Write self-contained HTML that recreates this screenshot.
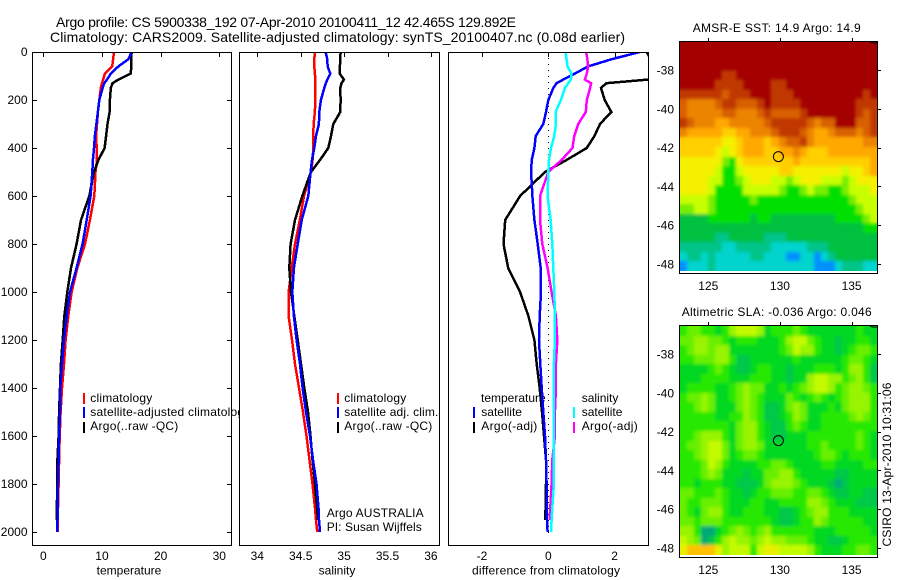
<!DOCTYPE html>
<html lang="en">
<head>
<meta charset="utf-8">
<title>Argo profile 5900338_192</title>
<style>
html,body{margin:0;padding:0;background:#fff;}
svg{display:block;font-family:"Liberation Sans",sans-serif;font-size:12px;fill:#000;}
</style>
</head>
<body>
<svg id="chart" xmlns="http://www.w3.org/2000/svg" width="900" height="580" viewBox="0 0 900 580">
<rect x="0" y="0" width="900" height="580" fill="#fff"/>
<defs>
<clipPath id="clip-p3"><rect x="449" y="53" width="199" height="492"/></clipPath>
<clipPath id="clip-p1"><rect x="33" y="53" width="198" height="492"/></clipPath>
<clipPath id="clip-p2"><rect x="240" y="53" width="199" height="492"/></clipPath>
<clipPath id="clip-sst-map"><rect x="680" y="42" width="197" height="229"/></clipPath>
<clipPath id="clip-sla-map"><rect x="680" y="326" width="197" height="229"/></clipPath>
<filter id="map-smooth" x="-5%" y="-5%" width="110%" height="110%"><feGaussianBlur stdDeviation="1.5"/></filter>
</defs>
<text x="56" y="27" font-size="14" textLength="460">Argo profile: CS 5900338_192 07-Apr-2010 20100411_12 42.465S 129.892E</text>
<text x="50" y="42" font-size="14" textLength="575">Climatology: CARS2009. Satellite-adjusted climatology: synTS_20100407.nc (0.08d earlier)</text>
<g id="panels"></g>
<g id="maps"></g>
<text x="692.7" y="32" textLength="168">AMSR-E SST: 14.9 Argo: 14.9</text>
<text x="681.7" y="316" textLength="190">Altimetric SLA: -0.036 Argo: 0.046</text>
<text transform="translate(891,546.5) rotate(-90)" textLength="164">CSIRO 13-Apr-2010 10:31:06</text>
</svg>
<script>
// ---- profile data (depth in dbar) ----
const depths = [0,30,60,90,115,130,150,200,250,300,350,400,450,500,600,700,800,900,1000,1100,1200,1300,1400,1500,1600,1700,1800,1900,1950,2000];
const tempClim = [12.05,11.9,11.75,10.5,10.2,10.0,9.8,9.55,9.3,9.15,9.0,9.1,9.15,8.9,8.7,7.95,7.1,5.8,4.83,4.26,3.8,3.52,3.18,2.95,2.8,2.7,2.6,2.5,2.47,2.45];
const tempSat = [15.05,14.5,12.8,11.5,10.85,10.4,10.1,9.55,9.3,9.05,8.8,8.65,8.45,8.35,8.07,7.39,6.7,5.68,4.55,3.98,3.52,3.18,2.9,2.85,2.7,2.6,2.5,2.45,2.42,2.4];
const tempArgo = [15.05,15,15,14.9,12.8,11.8,11.5,11.35,11.3,10.95,10.7,10.45,9.4,8.65,7.84,6.42,5.68,4.72,4.09,3.58,3.3,3.0,2.84,2.7,2.6,2.4,2.4,2.3,2.25,null];
const salClim = [34.664,34.657,34.657,34.664,34.668,34.668,34.668,34.668,34.664,34.649,34.645,34.645,34.637,34.618,34.538,34.49,34.434,34.396,34.361,34.361,34.4,34.434,34.48,34.527,34.567,34.601,34.636,34.665,34.676,34.691];
const salSat = [34.787,34.806,34.81,34.841,34.806,34.79,34.772,34.733,34.714,34.71,34.676,34.657,34.63,34.614,34.588,34.511,34.465,34.422,34.403,34.422,34.453,34.492,34.522,34.561,34.607,34.642,34.682,34.705,34.711,34.722];
const salArgo = [34.96,34.956,34.952,34.949,34.998,34.97,34.956,34.96,34.956,34.876,34.849,34.818,34.722,34.618,34.518,34.434,34.384,34.369,34.388,34.426,34.465,34.503,34.541,34.584,34.613,34.636,34.665,34.688,34.699,null];
const diffTempSat = [2.76,1.91,1.2,0.8,0.45,0.25,0.15,0,-0.07,-0.15,-0.38,-0.42,-0.5,-0.52,-0.48,-0.42,-0.32,-0.23,-0.22,-0.26,-0.28,-0.24,-0.2,-0.15,-0.1,-0.07,-0.05,-0.05,-0.04,-0.02];
const diffTempArgo = [2.96,3.1,3.3,4.0,3.0,1.75,1.59,1.7,1.9,1.56,1.39,1.16,0.55,-0.1,-0.85,-1.3,-1.35,-1.21,-0.85,-0.6,-0.42,-0.35,-0.26,-0.19,-0.13,-0.07,-0.07,-0.08,-0.1,null];
const diffSalSat = [0.52,0.55,0.58,0.7,0.68,0.6,0.5,0.38,0.22,0.23,0.18,0.08,0.02,0,-0.02,0.07,0.12,0.15,0.18,0.2,0.2,0.17,0.16,0.16,0.16,0.16,0.17,0.12,0.1,0.08];
const diffSalArgo = [1.14,1.18,1.2,1.16,1.1,1.29,1.26,1.16,1.13,0.9,0.78,0.73,0.4,0,-0.25,-0.25,-0.18,-0.02,0.1,0.23,0.27,0.23,0.23,0.2,0.2,0.12,0.1,0.06,0.04,null];
// ---- tick labels ----
const depthTicks = [0,200,400,600,800,1000,1200,1400,1600,1800,2000];
const tempTicks = [0,10,20,30];
const salTicks = [34,34.5,35,35.5,36];
const diffTicks = [-2,0,2];
const lonTicks = [125,130,135];
const latTicks = [-38,-40,-42,-44,-46,-48];
// ---- float position ----
const floatLon = 129.892;
const floatLat = -42.465;
// ---- AMSR-E SST colour-level grid (rows north to south) ----
const sstGrid = [
[0,0,0,0,0,0,0,0,0,0,0,0,0,0,0,0,0,0,0,0,0,0,0,0,0,0,0,0],
[0,0,0,0,0,0,0,0,0,0,0,0,0,0,0,0,0,0,0,0,0,0,0,0,0,0,0,0],
[0,0,0,0,0,0,0,0,0,0,0,0,0,0,0,0,0,0,0,0,0,0,0,0,0,0,0,0],
[0,0,0,0,0,0,1,1,0,0,0,0,0,0,0,0,0,0,0,0,0,0,0,0,0,0,0,0],
[0,0,0,0,0,1,1,1,1,0,0,0,0,1,1,0,0,0,0,0,0,0,0,0,0,0,0,0],
[1,1,1,1,1,1,2,1,1,1,0,0,0,1,1,1,0,0,0,0,0,0,0,0,0,0,1,0],
[2,3,3,3,3,2,1,1,2,2,2,1,0,1,1,1,1,0,0,0,0,0,0,0,0,1,1,1],
[2,3,3,3,3,3,2,2,3,3,3,2,1,2,2,2,2,1,0,0,0,0,0,0,0,1,2,1],
[1,2,3,3,3,4,4,3,3,3,3,3,2,1,1,1,1,1,2,3,2,2,0,0,0,2,2,1],
[3,4,4,4,4,4,5,5,4,4,3,3,3,2,1,1,1,2,3,4,4,3,2,2,2,3,2,1],
[5,5,5,5,5,5,6,6,5,4,4,4,5,4,3,2,2,1,3,4,4,4,4,4,4,4,3,3],
[5,5,5,5,5,6,7,6,5,4,4,4,5,5,4,4,3,4,5,5,5,4,4,4,4,4,4,4],
[6,6,6,6,6,6,8,9,6,5,5,5,5,5,5,5,4,5,5,5,5,5,5,5,5,5,5,4],
[6,6,6,6,6,7,9,9,7,6,6,6,6,6,5,5,6,6,6,6,6,6,6,7,6,6,5,4],
[6,6,6,6,7,7,9,9,8,7,6,6,6,7,7,8,7,6,6,6,7,7,7,8,7,6,6,6],
[6,6,6,6,7,9,9,9,9,7,7,7,7,7,8,9,9,8,7,8,8,9,9,8,7,7,7,6],
[7,7,7,7,8,9,9,9,9,9,8,9,9,9,9,9,9,9,9,9,9,9,9,9,8,7,7,7],
[8,8,7,7,8,9,9,9,9,9,9,9,9,9,9,9,9,9,9,9,9,9,9,9,9,8,7,7],
[10,10,10,10,9,9,9,9,9,9,10,9,9,10,10,10,10,10,10,10,10,10,9,9,9,9,8,7],
[10,10,10,10,10,10,10,10,10,10,10,10,10,10,10,10,10,10,10,10,10,10,10,10,10,10,9,9],
[10,10,10,10,10,11,11,10,10,10,10,10,11,11,11,10,10,10,10,10,10,10,10,10,10,10,10,10],
[11,11,11,11,11,11,12,12,11,11,11,11,11,12,12,12,12,12,11,11,11,10,10,10,10,10,10,10],
[12,11,11,12,11,12,12,12,12,12,11,11,12,12,12,13,13,12,12,13,12,11,10,10,10,10,10,10],
[13,12,12,12,11,12,12,12,12,12,12,12,12,12,12,12,12,12,12,13,13,13,12,11,11,11,12,12]
];
const sstColors = ["#a50000","#c03800","#d86000","#ec8400","#ffa800","#ffcf00","#f4f000","#c8ff00","#78ee00","#00e000","#00c040","#00c488","#00d4cc","#0090ff"];
// ---- altimetric SLA colour-level grid (rows north to south) ----
const slaGrid = [
[3,4,4,3,3,2,3,5,6,6,6,5,2,3,3,3,4,3,2,2,2,2,2,2,2,3,2,2],
[4,4,5,5,4,4,3,2,3,3,3,2,2,2,3,5,6,6,4,3,2,2,1,2,2,3,3,2],
[3,4,5,5,4,5,5,2,2,2,2,2,2,2,3,4,6,5,5,3,2,2,1,2,3,4,4,3],
[3,3,4,4,4,5,5,3,1,1,2,2,2,2,2,2,3,2,2,2,2,2,2,3,4,4,3,2],
[2,2,2,2,3,4,3,2,1,1,2,3,3,2,2,1,2,2,2,3,3,3,2,3,5,5,3,1],
[2,2,2,3,3,3,3,2,2,2,3,3,3,2,2,1,2,2,5,6,6,5,5,3,4,5,3,1],
[2,3,3,3,3,2,2,3,4,5,4,4,2,2,3,2,3,4,5,6,6,5,3,4,5,5,4,3],
[3,4,4,5,4,2,2,3,4,5,4,3,2,2,2,4,3,2,3,4,3,2,3,4,5,5,5,3],
[3,3,4,5,4,2,2,2,4,5,4,3,1,1,2,4,5,4,2,2,2,3,2,4,5,5,5,3],
[3,3,3,3,3,2,2,3,3,5,4,3,1,1,2,3,5,4,2,2,3,3,3,3,4,5,4,3],
[3,3,3,3,3,3,3,2,4,5,5,3,2,1,1,3,4,3,2,2,3,3,3,3,3,3,3,3],
[3,3,4,5,5,5,3,2,4,5,5,3,2,1,1,2,2,2,3,3,3,3,3,3,3,4,3,2],
[3,4,4,5,6,6,4,2,4,5,5,4,2,2,2,2,2,2,3,3,4,3,3,3,3,4,3,2],
[3,3,4,5,6,6,4,2,3,4,4,3,2,2,2,2,2,2,2,3,4,4,3,2,3,3,3,2],
[3,3,3,4,6,5,3,2,2,2,2,3,3,4,4,3,2,2,2,2,3,3,2,2,2,2,3,3],
[3,3,3,4,5,4,2,2,2,1,2,2,4,4,5,5,3,2,2,2,2,2,1,1,2,2,2,2],
[3,3,2,3,3,3,2,2,1,1,1,2,4,5,5,5,4,3,2,2,2,1,0,1,2,2,2,2],
[4,4,3,3,3,4,3,2,2,1,2,3,3,4,4,4,3,3,4,4,3,2,1,1,2,2,1,1],
[4,3,3,4,4,4,3,2,2,2,3,3,2,2,3,3,3,3,5,5,4,3,2,2,2,1,1,1],
[4,3,2,4,5,5,3,2,2,3,3,3,2,2,1,1,2,3,4,5,5,3,3,3,2,2,2,2],
[4,4,3,4,4,4,3,3,3,3,3,3,3,2,1,1,2,3,3,5,4,3,3,3,3,3,2,2],
[5,5,3,0,0,2,3,4,5,4,3,4,5,3,3,3,3,3,3,2,2,2,3,3,3,3,3,2],
[6,5,4,0,1,3,5,6,5,5,4,5,6,5,5,4,4,4,3,2,2,1,1,2,3,3,3,3],
[7,8,8,8,8,7,5,6,6,6,3,6,7,7,6,6,6,6,5,3,2,2,2,3,3,4,4,3]
];
const slaColors = ["#00a878","#00c848","#00d820","#28e800","#68f000","#98f400","#c4fa00","#e8f000","#ffc000"];

// ---- axis functions ----
function depthY(d){ return 52 + 0.24*d; }
function tempX(t){ return 43.3 + 5.867*t; }
function salX(s){ return 257.3 + 86.8*(s-34); }
function diffX(v){ return 548.3 + 33.17*v; }
function lonX(lon){ return 708.3 + 14.33*(lon-125); }
function latOffset(lat){ return 19.4*(-38-lat); }

const NS = "http://www.w3.org/2000/svg";
const panelsG = document.getElementById("panels");
const mapsG = document.getElementById("maps");

function mk(parent, tag, attrs, txt){
  const el = document.createElementNS(NS, tag);
  for(const k in attrs){ el.setAttribute(k, attrs[k]); }
  if(txt !== undefined){ el.textContent = txt; }
  parent.appendChild(el);
  return el;
}
function hline(parent, x1, y1, x2, y2, name){
  const el = mk(parent, "line", {x1:x1, y1:y1, x2:x2, y2:y2, stroke:"#000", "stroke-width":1, "shape-rendering":"crispEdges"});
  
  
  return el;
}
function profile(parent, xFn, values, color, name, clipId){
  const pts = [];
  values.forEach(function(v, i){
    if(v !== null){ pts.push(xFn(v).toFixed(1) + "," + depthY(depths[i]).toFixed(1)); }
  });
  const el = mk(parent, "polyline", {points:pts.join(" "), fill:"none", stroke:color, "stroke-width":2.5, "clip-path":"url(#" + clipId + ")", "shape-rendering":"crispEdges"});
  
  
}
function legendBar(parent, x, y, color, name){
  const el = mk(parent, "rect", {x:x, y:y, width:2, height:11, fill:color, stroke:"none", "shape-rendering":"crispEdges"});
  
  
}
function label(parent, x, y, s, name, anchor, fitWidth){
  const attrs = {x:x, y:y};
  if(anchor){ attrs["text-anchor"] = anchor; }
  if(fitWidth){ attrs["textLength"] = fitWidth; }
  const el = mk(parent, "text", attrs, s);
  
  
  return el;
}
function panelFrame(parent, L, R, name){
  const bg = mk(parent, "rect", {x:L, y:52, width:R-L, height:493, fill:"#fff", stroke:"none"});
  
  
}
function panelBorder(parent, L, R, name){
  const el = mk(parent, "rect", {x:L+0.5, y:52.5, width:R-L, height:493, fill:"none", stroke:"#000", "stroke-width":1, "shape-rendering":"crispEdges"});
  
  
}
function xAxis(parent, ticks, xFn, prefix){
  ticks.forEach(function(t){
    const px = Math.round(xFn(t)) + 0.5;
    hline(parent, px, 53, px, 57, prefix + '-x-tick');
    label(parent, xFn(t), 560, String(t), prefix + '-x-tick-label', 'middle');
  });
}

// ---- panel 1: temperature ----
const p1 = mk(panelsG, "g", {});


panelFrame(p1, 32, 231, 'temperature-panel');
legendBar(p1, 83, 393, "#ff0000", 'temperature-legend-climatology-swatch');
legendBar(p1, 83, 407, "#0000ff", 'temperature-legend-satellite-swatch');
legendBar(p1, 83, 422, "#000000", 'temperature-legend-argo-swatch');
label(p1, 90.3, 402, "climatology", 'temperature-legend-climatology-label', null, 62);
label(p1, 90.3, 416, "satellite-adjusted climatology", 'temperature-legend-satellite-label', null, 160);
label(p1, 90.3, 430, "Argo(..raw -QC)", 'temperature-legend-argo-label', null, 88);
profile(p1, tempX, tempClim, "#ff0000", 'temperature-climatology-line', 'clip-p1');
profile(p1, tempX, tempArgo, "#000000", 'temperature-argo-line', 'clip-p1');
profile(p1, tempX, tempSat, "#0000ff", 'temperature-satellite-line', 'clip-p1');
panelBorder(p1, 32, 231, 'temperature-panel');
depthTicks.forEach(function(d){
  const py = Math.round(depthY(d)) + 0.5;
  hline(p1, 33, py, 37, py, 'depth-tick-left');
  hline(p1, 227, py, 231, py, 'depth-tick-right');
  label(p1, 27.5, depthY(d) + 4, String(d), 'depth-tick-label', 'end');
});
xAxis(p1, tempTicks, tempX, 'temperature');
label(p1, 129, 574.5, "temperature", 'temperature-axis-title', 'middle');

// ---- panel 2: salinity ----
const p2 = mk(panelsG, "g", {});


panelFrame(p2, 239, 439, 'salinity-panel');
legendBar(p2, 337, 393, "#ff0000", 'salinity-legend-climatology-swatch');
legendBar(p2, 337, 407, "#0000ff", 'salinity-legend-satellite-swatch');
legendBar(p2, 337, 422, "#000000", 'salinity-legend-argo-swatch');
label(p2, 344.3, 402, "climatology", 'salinity-legend-climatology-label', null, 62);
label(p2, 344.3, 416, "satellite adj. clim.", 'salinity-legend-satellite-label', null, 94);
label(p2, 344.3, 430, "Argo(..raw -QC)", 'salinity-legend-argo-label', null, 88);
profile(p2, salX, salClim, "#ff0000", 'salinity-climatology-line', 'clip-p2');
profile(p2, salX, salArgo, "#000000", 'salinity-argo-line', 'clip-p2');
profile(p2, salX, salSat, "#0000ff", 'salinity-satellite-line', 'clip-p2');
panelBorder(p2, 239, 439, 'salinity-panel');
xAxis(p2, salTicks, salX, 'salinity');
label(p2, 337, 574.5, "salinity", 'salinity-axis-title', 'middle');
label(p2, 326.7, 517, "Argo AUSTRALIA", 'argo-programme-label', null, 97);
label(p2, 326.7, 531, "PI: Susan Wijffels", 'principal-investigator-label', null, 95);

// ---- panel 3: differences ----
const p3 = mk(panelsG, "g", {});


panelFrame(p3, 448, 648, 'difference-panel');
label(p3, 481, 402, "temperature", 'difference-legend-temperature-heading');
label(p3, 481.3, 416, "satellite", 'difference-legend-temp-satellite-label');
label(p3, 481.3, 430, "Argo(-adj)", 'difference-legend-temp-argo-label', null, 56);
label(p3, 581.7, 402, "salinity", 'difference-legend-salinity-heading');
label(p3, 581.7, 416, "satellite", 'difference-legend-sal-satellite-label');
label(p3, 581.7, 430, "Argo(-adj)", 'difference-legend-sal-argo-label', null, 56);
legendBar(p3, 473, 407, "#0000ff", 'difference-legend-temp-satellite-swatch');
legendBar(p3, 473, 422, "#000000", 'difference-legend-temp-argo-swatch');
legendBar(p3, 573, 407, "#00ffff", 'difference-legend-sal-satellite-swatch');
legendBar(p3, 573, 422, "#ff00ff", 'difference-legend-sal-argo-swatch');
const zeroLine = mk(p3, "line", {x1:548.5, y1:depthY(0), x2:548.5, y2:depthY(2000)+4, stroke:"#000", "stroke-width":1, "stroke-dasharray":"1 5", "shape-rendering":"crispEdges"});


profile(p3, diffX, diffTempArgo, "#000000", 'difference-temp-argo-line', 'clip-p3');
profile(p3, diffX, diffTempSat, "#0000ff", 'difference-temp-satellite-line', 'clip-p3');
profile(p3, diffX, diffSalArgo, "#ff00ff", 'difference-sal-argo-line', 'clip-p3');
profile(p3, diffX, diffSalSat, "#00ffff", 'difference-sal-satellite-line', 'clip-p3');
panelBorder(p3, 448, 648, 'difference-panel');
xAxis(p3, diffTicks, diffX, 'difference');
label(p3, 546, 574.5, "difference from climatology", 'difference-axis-title', 'middle', 148);

// ---- maps ----
function drawMap(grid, colors, top, name){
  const g = mk(mapsG, "g", {});
  
  
  const left = 680, imgW = 197, imgH = 229;
  const imgTop = top + 1;
  const rows = grid.length, cols = grid[0].length;
  const y38 = top + 29;
  function latY(lat){ return y38 + latOffset(lat); }
  const cellsId = name + '-cells';
  const cells = mk(g, "g", {id:cellsId});
  
  
  for(let r = 0; r < rows; r++){
    const y0 = Math.round(imgTop + r*imgH/rows);
    const y1 = Math.round(imgTop + (r+1)*imgH/rows);
    for(let c = 0; c < cols; c++){
      const x0 = Math.round(left + c*imgW/cols);
      const x1 = Math.round(left + (c+1)*imgW/cols);
      const cell = mk(cells, "rect", {x:x0, y:y0, width:x1-x0, height:y1-y0, fill:colors[grid[r][c]], "shape-rendering":"crispEdges"});
      
      
    }
  }
  // smoothed copy of the cells on top, matching the interpolated look of the field
  const clipG = mk(g, "g", {"clip-path":"url(#clip-" + name + ")"});
  
  
  const smooth = mk(clipG, "use", {href:"#" + cellsId, filter:"url(#map-smooth)"});
  
  
  const coast = mk(g, "polyline", {points:(left+190)+","+(top+1)+" "+(left+192)+","+(top+2)+" "+(left+197)+","+(top+2), fill:"none", stroke:"#000", "stroke-width":1, "shape-rendering":"crispEdges"});
  
  
  const frame = mk(g, "rect", {x:679.5, y:top+0.5, width:198, height:232, fill:"none", stroke:"#000", "stroke-width":1, "shape-rendering":"crispEdges"});
  
  
  lonTicks.forEach(function(lon){
    const px = Math.round(lonX(lon)) + 0.5;
    hline(g, px, top-3, px, top, name + '-lon-tick');
    label(g, lonX(lon), top + 249, String(lon), name + '-lon-label', 'middle');
  });
  latTicks.forEach(function(lat){
    const py = Math.round(latY(lat)) + 0.5;
    hline(g, 877, py, 881, py, name + '-lat-tick');
    label(g, 674, latY(lat) + 4.5, String(lat), name + '-lat-label', 'end');
  });
  const marker = mk(g, "circle", {cx:lonX(floatLon), cy:latY(floatLat), r:5, fill:"none", stroke:"#000", "stroke-width":1});
  
  
}
drawMap(sstGrid, sstColors, 41, 'sst-map');
drawMap(slaGrid, slaColors, 325, 'sla-map');
</script>
</body>
</html>
